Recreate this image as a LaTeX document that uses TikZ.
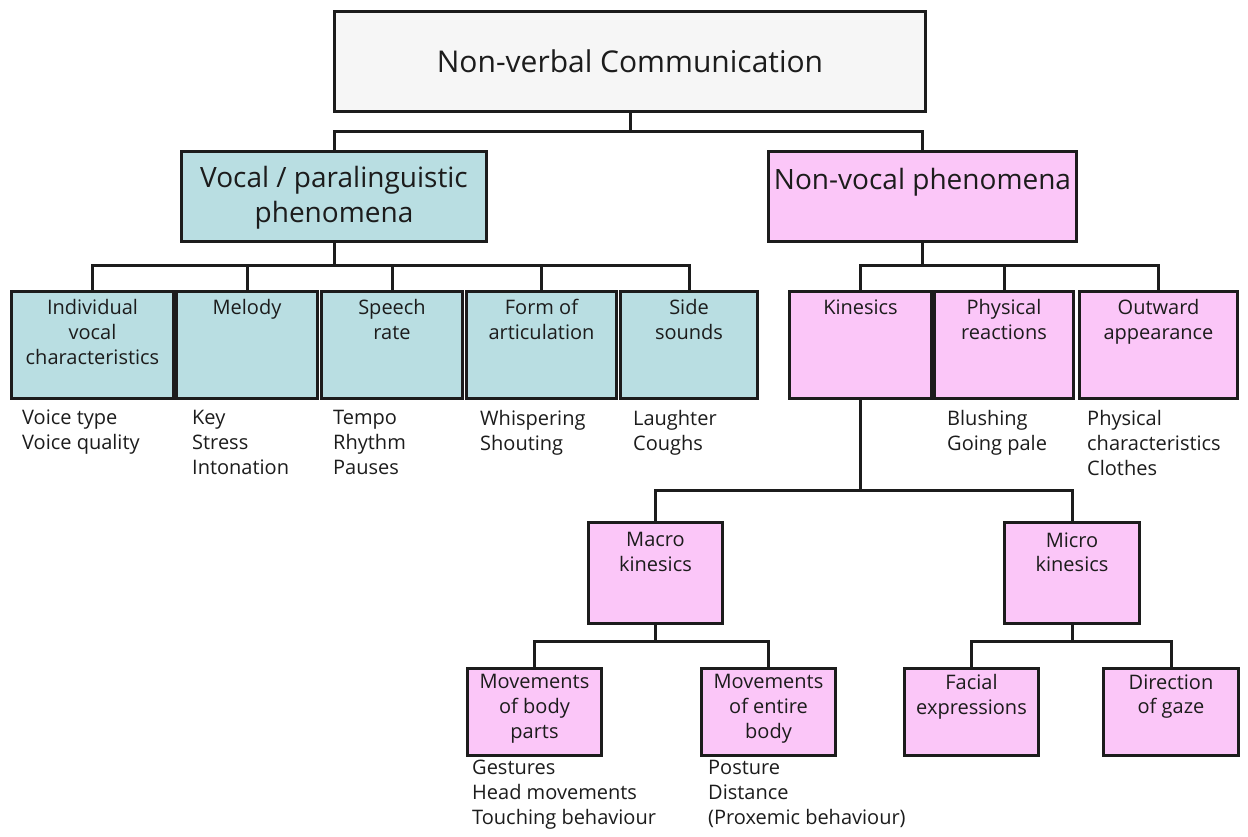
\documentclass[tikz,border=0pt]{standalone}
\usepackage{fontspec}
\setmainfont{Open Sans}
\definecolor{tealfill}{HTML}{B9DEE2}
\definecolor{pinkfill}{HTML}{FBC6F8}
\definecolor{rootfill}{HTML}{F6F6F6}
\definecolor{ln}{HTML}{1C1C1C}
\newcommand\BX[8]{\node[bxs,fill=#6] (#1) at (#2,#3) {\begin{minipage}[t][#5pt][t]{#4pt}\centering\vspace*{#7pt}#8\end{minipage}};}
\newcommand\sz{\fontsize{20}{24.8}\selectfont}
\begin{document}
\begin{tikzpicture}[x=1pt,y=-1pt,
  bxs/.style={draw=ln,line width=3pt,inner sep=0pt,anchor=north west,text=ln},
  wire/.style={draw=ln,line width=3pt},
  lst/.style={anchor=north west,inner sep=0pt,align=left,font=\sz,text=ln}]
\useasboundingbox[fill=white] (0,0) rectangle (1248,836);
% level 0
\node[bxs,fill=rootfill] (root) at (333,10) {\begin{minipage}[c][100pt][c]{591pt}\centering\fontsize{30}{34}\selectfont Non-verbal Communication\end{minipage}};
% level 1
\BX{vocal}{180}{150}{305}{90}{tealfill}{15}{\fontsize{28}{35}\selectfont Vocal / paralinguistic\\ phenomena}
\BX{nonvocal}{767}{150}{308}{90}{pinkfill}{17}{\fontsize{28}{35}\selectfont Non-vocal phenomena}
% level 2
\BX{indiv}{10}{290}{162}{107}{tealfill}{8}{\sz Individual\\ vocal\\ characteristics}
\BX{melody}{175}{290}{141}{107}{tealfill}{8}{\sz Melody}
\BX{speech}{320}{290}{141}{107}{tealfill}{8}{\sz Speech\\ rate}
\BX{form}{465}{290}{150}{107}{tealfill}{8}{\sz Form of\\ articulation}
\BX{side}{619}{290}{137}{107}{tealfill}{8}{\sz Side\\ sounds}
\BX{kines}{788}{290}{142}{107}{pinkfill}{8}{\sz Kinesics}
\BX{phys}{933}{290}{139}{107}{pinkfill}{8}{\sz Physical\\ reactions}
\BX{outward}{1078}{290}{158}{107}{pinkfill}{8}{\sz Outward\\ appearance}
% level 3
\BX{macro}{587}{521}{134}{101}{pinkfill}{10}{\sz Macro\\ kinesics}
\BX{micro}{1003}{521}{135}{101}{pinkfill}{10}{\sz Micro\\ kinesics}
% level 4
\BX{mbp}{466}{667}{134}{87}{pinkfill}{6}{\sz Movements\\ of body\\ parts}
\BX{meb}{700}{667}{134}{87}{pinkfill}{6}{\sz Movements\\ of entire\\ body}
\BX{facial}{903}{667}{134}{87}{pinkfill}{6}{\sz Facial\\ expressions}
\BX{dir}{1102}{667}{135}{87}{pinkfill}{6}{\sz Direction\\ of gaze}
% lists
\node[lst] (l1) at (22,410) {Voice type\\ Voice quality};
\node[lst] (l2) at (192,410) {Key\\ Stress\\ Intonation};
\node[lst] (l3) at (333,410) {Tempo\\ Rhythm\\ Pauses};
\node[lst] (l4) at (480,410) {Whispering\\ Shouting};
\node[lst] (l5) at (633,410) {Laughter\\ Coughs};
\node[lst] (l6) at (947,410) {Blushing\\ Going pale};
\node[lst] (l7) at (1087,410) {Physical\\ characteristics\\ Clothes};
\node[lst] (l8) at (472,760) {Gestures\\ Head movements\\ Touching behaviour};
\node[lst] (l9) at (708,760) {Posture\\ Distance\\ (Proxemic behaviour)};
% bus levels
\coordinate (y1) at (0,131);
\coordinate (y2) at (0,265);
\coordinate (y3) at (0,490);
\coordinate (y4) at (0,641);
% connectors
\draw[wire] (root.south) -- (root.south |- y1);
\draw[wire] (vocal.north) -- (vocal.north |- y1) -- (nonvocal.north |- y1) -- (nonvocal.north);
\draw[wire] (vocal.south) -- (vocal.south |- y2);
\draw[wire] (indiv.north) -- (indiv.north |- y2) -- (side.north |- y2) -- (side.north);
\draw[wire] (melody.north) -- (melody.north |- y2);
\draw[wire] (speech.north) -- (speech.north |- y2);
\draw[wire] (form.north) -- (form.north |- y2);
\draw[wire] (nonvocal.south) -- (nonvocal.south |- y2);
\draw[wire] (kines.north) -- (kines.north |- y2) -- (outward.north |- y2) -- (outward.north);
\draw[wire] (phys.north) -- (phys.north |- y2);
\draw[wire] (kines.south) -- (kines.south |- y3);
\draw[wire] (macro.north) -- (macro.north |- y3) -- (micro.north |- y3) -- (micro.north);
\draw[wire] (macro.south) -- (macro.south |- y4);
\draw[wire] (mbp.north) -- (mbp.north |- y4) -- (meb.north |- y4) -- (meb.north);
\draw[wire] (micro.south) -- (micro.south |- y4);
\draw[wire] (facial.north) -- (facial.north |- y4) -- (dir.north |- y4) -- (dir.north);
\end{tikzpicture}
\end{document}
